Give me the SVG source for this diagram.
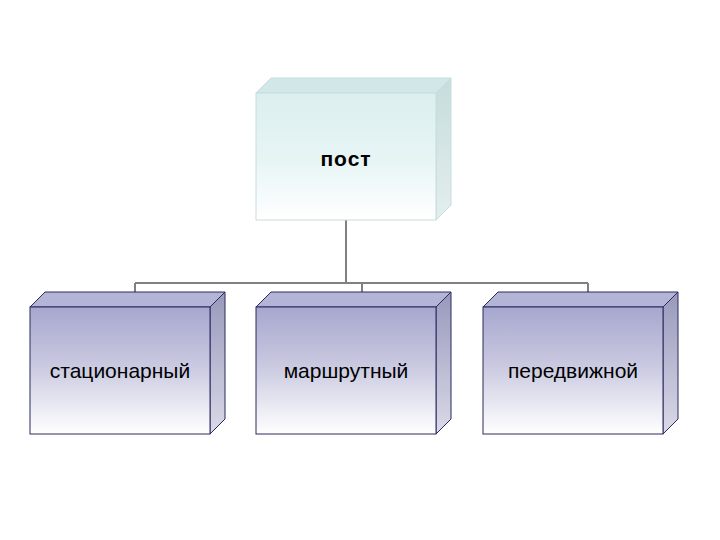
<svg xmlns="http://www.w3.org/2000/svg" width="720" height="540" viewBox="0 0 720 540">
<defs>
<linearGradient id="gTop" x1="0" y1="0" x2="0" y2="1">
<stop offset="0" stop-color="#dcefef"/>
<stop offset="0.5" stop-color="#e6f4f4"/>
<stop offset="1" stop-color="#ffffff"/>
</linearGradient>
<linearGradient id="gTopSide" x1="0" y1="0" x2="0" y2="1">
<stop offset="0" stop-color="#c6dcdc"/>
<stop offset="1" stop-color="#e4eeee"/>
</linearGradient>
<linearGradient id="gBox" x1="0" y1="0" x2="0" y2="1">
<stop offset="0" stop-color="#a7a7cf"/>
<stop offset="0.45" stop-color="#c8c8e0"/>
<stop offset="1" stop-color="#ffffff"/>
</linearGradient>
<linearGradient id="gSide" x1="0" y1="0" x2="0" y2="1">
<stop offset="0" stop-color="#9898bc"/>
<stop offset="1" stop-color="#dadae8"/>
</linearGradient>
<style>
.ct{fill:#d2e8e8;stroke:#c4dede;stroke-width:1}
.cs{fill:url(#gTopSide);stroke:#c4dede;stroke-width:1}
.cf{fill:url(#gTop);stroke:#c4dede;stroke-width:1}
.bt{fill:#b4b4d6;stroke:#2a2a60;stroke-width:1}
.bs{fill:url(#gSide);stroke:#2a2a60;stroke-width:1}
.bf{fill:url(#gBox);stroke:#2a2a60;stroke-width:1}
.lbl{font-family:"Liberation Sans",Arial,sans-serif;font-size:21px;fill:#000;text-anchor:middle}
.conn{fill:none;stroke:#808080;stroke-width:2}
</style>
</defs>
<rect width="720" height="540" fill="#ffffff"/>
<g id="connectors">
<path class="conn" d="M346 220 V283 M135 283 H588 M135 283 V292 M362 283 V292 M588 283 V292"/>
</g>
<g id="node-post">
<polygon class="ct" points="256,93 271,78 451,78 436,93"/>
<polygon class="cs" points="436,93 451,78 451,205 436,220"/>
<rect class="cf" x="256" y="93" width="180" height="127"/>
<text class="lbl" x="346" y="166" font-weight="bold" font-size="22" letter-spacing="1">пост</text>
</g>
<g id="node-stat">
<polygon class="bt" points="30,307 45,292 225,292 210,307"/>
<polygon class="bs" points="210,307 225,292 225,419 210,434"/>
<rect class="bf" x="30" y="307" width="180" height="127"/>
<text class="lbl" x="120" y="378">стационарный</text>
</g>
<g id="node-marsh">
<polygon class="bt" points="256,307 271,292 451,292 436,307"/>
<polygon class="bs" points="436,307 451,292 451,419 436,434"/>
<rect class="bf" x="256" y="307" width="180" height="127"/>
<text class="lbl" x="346" y="378">маршрутный</text>
</g>
<g id="node-pered">
<polygon class="bt" points="483,307 498,292 678,292 663,307"/>
<polygon class="bs" points="663,307 678,292 678,419 663,434"/>
<rect class="bf" x="483" y="307" width="180" height="127"/>
<text class="lbl" x="573" y="378">передвижной</text>
</g>
</svg>
